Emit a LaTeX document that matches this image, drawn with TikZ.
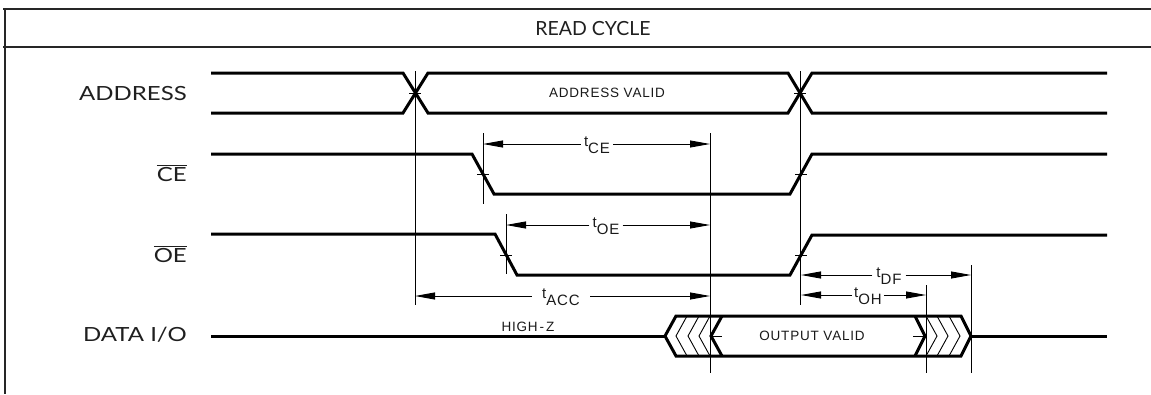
\documentclass[tikz,border=0pt]{standalone}
\usepackage{fontspec}
\setmainfont{Lato}
\newfontfamily\cadfont[LetterSpace=6]{Liberation Sans}
\usetikzlibrary{arrows.meta}
\newcommand\tsub[1]{t\raisebox{-7pt}{#1}}
\newcommand\ovl[1]{\ensuremath{\overline{\hbox{#1}}}}
\newcommand\wide[1]{\scalebox{1.23}[1]{#1}}
\begin{document}
\begin{tikzpicture}[x=1pt,y=-1pt,
  frame/.style={line width=2.4pt, draw=black!85},
  sig/.style={line width=3pt},
  thinln/.style={line width=0.9pt},
  tim/.style={line width=0.9pt, -{Triangle[length=20pt,width=7pt]}},
  lab/.style={font=\fontsize{19.5}{20}\selectfont, anchor=base east, inner sep=0pt, text=black!88},
  ttl/.style={font=\fontsize{19.5}{20}\selectfont, anchor=base, inner sep=0pt, text=black!88},
  cadtxt/.style={font=\cadfont\fontsize{13.5}{14}\selectfont, inner sep=0pt, text=black!90},
  tlab/.style={font=\cadfont\fontsize{15}{15}\selectfont, anchor=base, inner ysep=0pt, inner xsep=3pt, text=black!90}]
\useasboundingbox (0,0) rectangle (1151,394);
% frame
\draw[frame] (3,9) -- (1151,9);
\draw[frame] (3,47) -- (1151,47);
\draw[frame] (5,8) -- (5,394);
\node[ttl] (title) at (593,35) {READ CYCLE};
% signal names
\node[lab] (laddr) at (187,100) {\wide{ADDRESS}};
\node[lab] (lce) at (187,181) {\wide{\ovl{CE}}};
\node[lab] (loe) at (187,262) {\wide{\ovl{OE}}};
\node[lab] (ldata) at (187,341) {\wide{DATA I/O}};
% ADDRESS
\draw[sig] (211,73) -- (403,73) -- (428,113) -- (788,113) -- (812,73) -- (1107,73);
\draw[sig] (211,113) -- (403,113) -- (428,73) -- (788,73) -- (812,113) -- (1107,113);
\node[cadtxt] (addrv) at (607,93) {ADDRESS VALID};
% CE
\draw[sig] (211,154) -- (472,154) -- (494,194) -- (790,194) -- (812,154) -- (1107,154);
% OE
\draw[sig] (211,234) -- (495,234) -- (517,275) -- (790,275) -- (812,235) -- (1107,235);
% DATA
\draw[sig] (211,336) -- (665,336);
\draw[sig] (971,336) -- (1107,336);
\draw[sig] (665,336) -- (676,316) -- (961,316) -- (971,336) -- (961,356) -- (676,356) -- cycle;
\draw[sig] (722,316) -- (711,336) -- (722,356);
\draw[sig] (915,316) -- (925,336) -- (915,356);
\foreach \p in {676,688,699} \draw[thinln] (\p+11,316) -- (\p,336) -- (\p+11,356);
\foreach \p in {937,948,960} \draw[thinln] (\p-11,316) -- (\p,336) -- (\p-11,356);
\node[cadtxt] (hz) at (528,327) {HIGH{\kern2pt}-{\kern2pt}Z};
\node[cadtxt] (outv) at (812,336) {OUTPUT VALID};
% crossing ticks
\foreach \cx/\cy in {415/93, 800/93, 483/174, 801/174, 506/255, 801/255}
  \draw[thinln] (\cx-6,\cy) -- (\cx+6,\cy);
\draw[thinln] (711,336) -- (722,336);
\draw[thinln] (913,336) -- (925,336);
% reference verticals
\coordinate (vA1) at (415,71);  \coordinate (vA2) at (415,305);
\coordinate (vB1) at (800,71);  \coordinate (vB2) at (800,305);
\coordinate (vC1) at (483,133); \coordinate (vC2) at (483,204);
\coordinate (vO1) at (506,214); \coordinate (vO2) at (506,274);
\coordinate (vV1) at (710,133); \coordinate (vV2) at (710,373);
\coordinate (vH1) at (926,285); \coordinate (vH2) at (926,373);
\coordinate (vD1) at (971,265); \coordinate (vD2) at (971,373);
\foreach \a/\b in {vA1/vA2, vB1/vB2, vC1/vC2, vO1/vO2, vV1/vV2, vH1/vH2, vD1/vD2}
  \draw[thinln] (\a) -- (\b);
% timing arrows
\coordinate (ceL) at (483,144);  \coordinate (ceR) at (710,144);
\coordinate (oeL) at (506,225);  \coordinate (oeR) at (710,225);
\coordinate (accL) at (415,296); \coordinate (accR) at (710,296);
\coordinate (dfL) at (801,275);  \coordinate (dfR) at (971,275);
\coordinate (ohL) at (801,295);  \coordinate (ohR) at (926,295);
\node[tlab] (tce) at (597,146) {\tsub{CE}};
\node[tlab] (toe) at (606,227) {\tsub{OE}};
\node[tlab, inner xsep=10pt] (tacc) at (561,298) {\tsub{ACC}};
\node[tlab, inner xsep=4pt] (tdf) at (889,277) {\tsub{DF}};
\node[tlab, inner xsep=2pt] (toh) at (868,297) {\tsub{OH}};
\draw[tim] (tce.west |- ceL) -- (ceL);
\draw[tim] (tce.east |- ceR) -- (ceR);
\draw[tim] (toe.west |- oeL) -- (oeL);
\draw[tim] (toe.east |- oeR) -- (oeR);
\draw[tim] (tacc.west |- accL) -- (accL);
\draw[tim] (tacc.east |- accR) -- (accR);
\draw[tim] (tdf.west |- dfL) -- (dfL);
\draw[tim] (tdf.east |- dfR) -- (dfR);
\draw[tim] (toh.west |- ohL) -- (ohL);
\draw[tim] (toh.east |- ohR) -- (ohR);
\end{tikzpicture}
\end{document}
